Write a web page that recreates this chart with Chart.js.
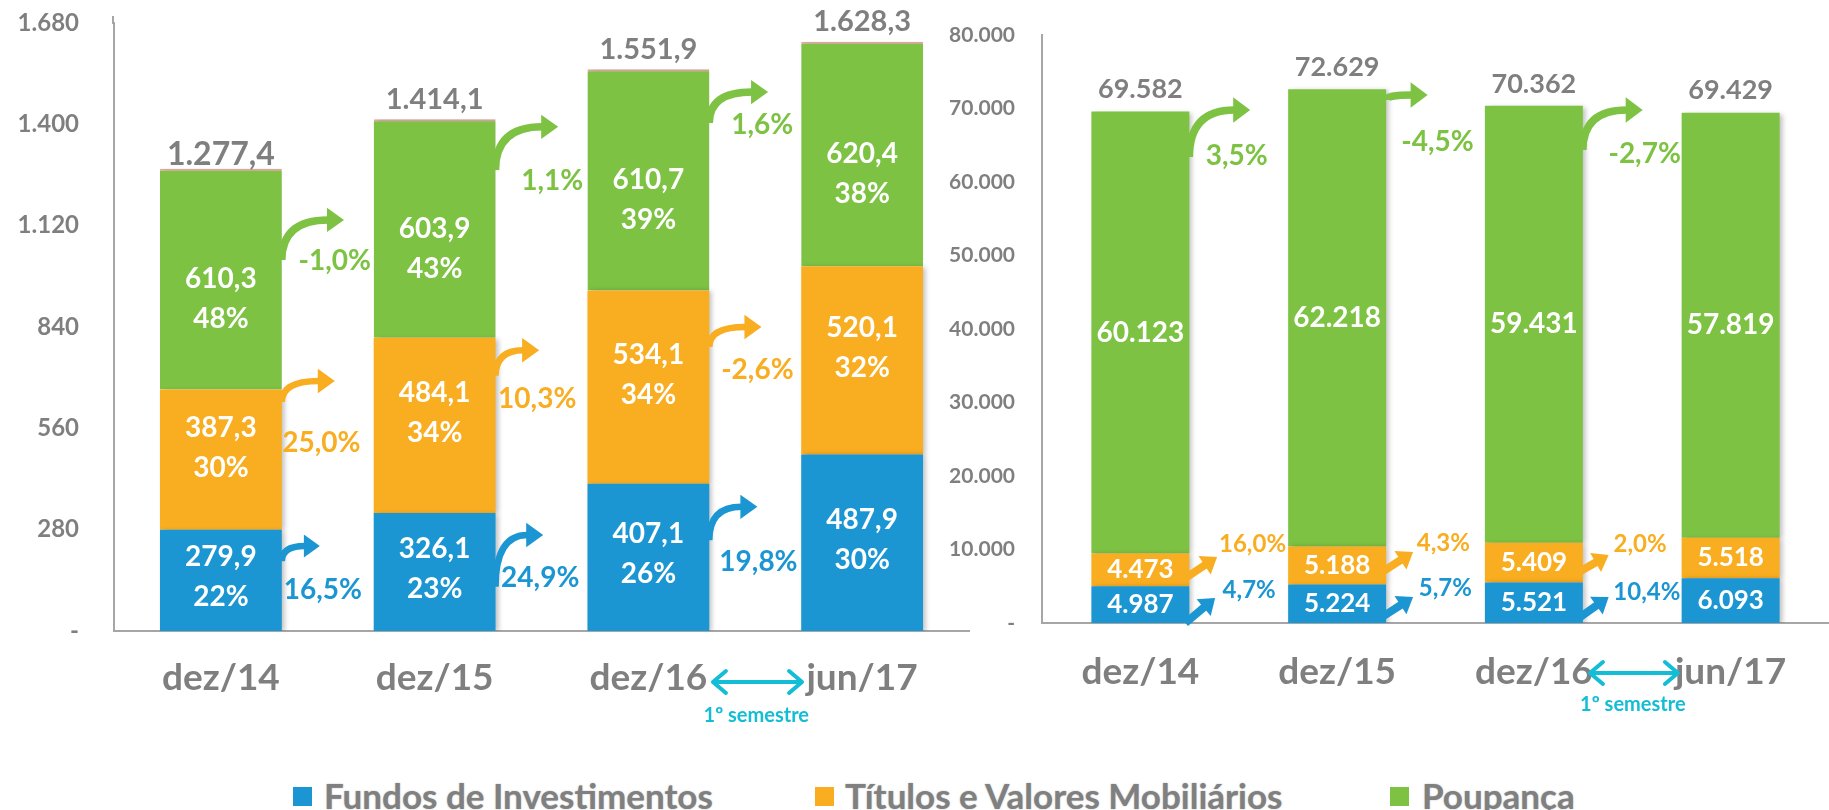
<!DOCTYPE html>
<html><head><meta charset="utf-8">
<script src="https://cdn.jsdelivr.net/npm/chart.js@4.4.0/dist/chart.umd.min.js"></script>
<style>
html,body{margin:0;padding:0;background:#fff;width:1829px;height:810px;overflow:hidden;}
#cL{position:absolute;left:0;top:0;}
#cR{position:absolute;left:930px;top:0;}
.sq{position:absolute;top:787px;width:19px;height:19px;}
.lt{position:absolute;top:778px;font:bold 35px Lato,"Open Sans",sans-serif;line-height:1;color:#808080;white-space:nowrap;text-shadow:0 0 1.5px rgba(90,90,90,0.5);}
</style></head>
<body>
<canvas id="cL" width="990" height="760"></canvas>
<canvas id="cR" width="899" height="760"></canvas>
<div id="legend"></div>
<script>
// ---------- data ----------
const categories = ['dez/14', 'dez/15', 'dez/16', 'jun/17'];
const seriesNames = ['Fundos de Investimentos', 'Títulos e Valores Mobiliários', 'Poupança'];
// left chart (R$ bilhões)
const fundosBi   = [279.9, 326.1, 407.1, 487.9];
const titulosBi  = [387.3, 484.1, 534.1, 520.1];
const poupancaBi = [610.3, 603.9, 610.7, 620.4];
const totalBi    = [1277.4, 1414.1, 1551.9, 1628.3];
const fundosShare   = ['22%', '23%', '26%', '30%'];
const titulosShare  = ['30%', '34%', '34%', '32%'];
const poupancaShare = ['48%', '43%', '39%', '38%'];
const fundosGrowthBi   = ['16,5%', '24,9%', '19,8%'];
const titulosGrowthBi  = ['25,0%', '10,3%', '-2,6%'];
const poupancaGrowthBi = ['-1,0%', '1,1%', '1,6%'];
const leftTickLabels = ['-', '280', '560', '840', '1.120', '1.400', '1.680'];
// right chart
const fundosN   = [4987, 5224, 5521, 6093];
const titulosN  = [4473, 5188, 5409, 5518];
const poupancaN = [60123, 62218, 59431, 57819];
const totalN    = [69582, 72629, 70362, 69429];
const fundosGrowthN   = ['4,7%', '5,7%', '10,4%'];
const titulosGrowthN  = ['16,0%', '4,3%', '2,0%'];
const poupancaGrowthN = ['3,5%', '-4,5%', '-2,7%'];
const rightTickLabels = ['-', '10.000', '20.000', '30.000', '40.000', '50.000', '60.000', '70.000', '80.000'];
const semesterLabel = '1º semestre';

// ---------- style / layout ----------
const FONT = 'Lato, "Open Sans", sans-serif';
const GRAY = '#7F7F7F';
const AXIS = '#A6A6A6';
const BLUE = '#1B96D2', ORANGE = '#F9AD21', GREEN = '#7DC243', CYAN = '#14BDD6';
const COLORS = [BLUE, ORANGE, GREEN];
const leftTotalFont = [32, 29, 29, 29];
const leftTotalGap  = [14, 20, 20, 20];

// annotation layout: sv = start value, tx/lx = offset from category centre (category units), tv/lv = values
const leftArrowLayout = [
  [{sv:193, tx:0.463, tv:235, lx:0.477, lv:113}, {sv:122, tx:0.508, tv:265, lx:0.494, lv:146}, {sv:251, tx:0.51, tv:343, lx:0.515, lv:191}],
  [{sv:633, tx:0.533, tv:691, lx:0.47, lv:519}, {sv:705, tx:0.489, tv:776, lx:0.48, lv:641}, {sv:785, tx:0.529, tv:840, lx:0.51, lv:721}],
  [{sv:1025, tx:0.576, tv:1136, lx:0.533, lv:1022}, {sv:1274, tx:0.578, tv:1393, lx:0.55, lv:1243}, {sv:1404, tx:0.56, tv:1489, lx:0.533, lv:1398}]
];
const rightArrowLayout = [
  [{sv:0, tx:0.38, tv:3400, lx:0.553, lv:4490}, {sv:816, tx:0.386, tv:3540, lx:0.55, lv:4760}, {sv:680, tx:0.38, tv:3540, lx:0.574, lv:4220}],
  [{sv:6120, tx:0.39, tv:8980, lx:0.57, lv:10750}, {sv:6940, tx:0.386, tv:9660, lx:0.54, lv:10880}, {sv:6940, tx:0.38, tv:9250, lx:0.54, lv:10750}],
  [{sv:63400, tx:0.558, tv:69800, lx:0.49, lv:63540}, {sv:71160, tx:0.46, tv:71840, lx:0.51, lv:65440}, {sv:64350, tx:0.553, tv:69800, lx:0.563, lv:63810}]
];

function fmtNum(v, dec) {
  const neg = v < 0; v = Math.abs(v);
  const parts = v.toFixed(dec).split('.');
  const int = parts[0].replace(/\B(?=(\d{3})+(?!\d))/g, '.');
  return (neg ? '-' : '') + int + (parts[1] ? ',' + parts[1] : '');
}

function curvedArrow(ctx, x0, y0, x1, y1, col, lw, headLen, headHalf) {
  const xe = x1 - headLen;
  ctx.save();
  ctx.strokeStyle = col; ctx.fillStyle = col; ctx.lineWidth = lw; ctx.lineCap = 'butt';
  ctx.beginPath();
  ctx.moveTo(x0, y0);
  ctx.quadraticCurveTo(x0, y1, xe + 1, y1);
  ctx.stroke();
  ctx.beginPath();
  ctx.moveTo(x1, y1);
  ctx.lineTo(xe, y1 - headHalf);
  ctx.lineTo(xe, y1 + headHalf);
  ctx.closePath(); ctx.fill();
  ctx.restore();
}
function straightArrow(ctx, x0, y0, x1, y1, col, lw, headLen, headHalf) {
  const a = Math.atan2(y1 - y0, x1 - x0);
  const bx = x1 - headLen * Math.cos(a), by = y1 - headLen * Math.sin(a);
  ctx.save();
  ctx.strokeStyle = col; ctx.fillStyle = col; ctx.lineWidth = lw;
  ctx.beginPath(); ctx.moveTo(x0, y0); ctx.lineTo(bx + Math.cos(a), by + Math.sin(a)); ctx.stroke();
  ctx.beginPath(); ctx.moveTo(x1, y1);
  ctx.lineTo(bx + headHalf * Math.sin(a), by - headHalf * Math.cos(a));
  ctx.lineTo(bx - headHalf * Math.sin(a), by + headHalf * Math.cos(a));
  ctx.closePath(); ctx.fill();
  ctx.restore();
}
function doubleArrow(ctx, x0, x1, y, col) {
  ctx.save();
  ctx.strokeStyle = col; ctx.lineWidth = 4; ctx.lineCap = 'round'; ctx.lineJoin = 'round';
  ctx.beginPath(); ctx.moveTo(x0 + 2, y); ctx.lineTo(x1 - 2, y); ctx.stroke();
  const h = 11, w = 13;
  ctx.beginPath(); ctx.moveTo(x0 + w, y - h); ctx.lineTo(x0, y); ctx.lineTo(x0 + w, y + h); ctx.stroke();
  ctx.beginPath(); ctx.moveTo(x1 - w, y - h); ctx.lineTo(x1, y); ctx.lineTo(x1 - w, y + h); ctx.stroke();
  ctx.restore();
}

function shadowPlugin() {
  return {
    id: 'barShadow',
    beforeDatasetsDraw(chart) { const c = chart.ctx; c.save(); c.shadowColor = 'rgba(0,0,0,0.25)'; c.shadowBlur = 5; c.shadowOffsetX = 3; c.shadowOffsetY = 1; },
    afterDatasetsDraw(chart) { chart.ctx.restore(); }
  };
}

function drawLeft(chart) {
  const ctx = chart.ctx, xs = chart.scales.x, ys = chart.scales.y;
  const catW = xs.getPixelForValue(1) - xs.getPixelForValue(0);
  ctx.save();
  // small axis extension above the top tick, as in the original
  ctx.strokeStyle = AXIS; ctx.lineWidth = 2;
  ctx.beginPath(); ctx.moveTo(chart.chartArea.left - 1, chart.chartArea.top - 7); ctx.lineTo(chart.chartArea.left - 1, chart.chartArea.top + 1); ctx.stroke();
  ctx.textAlign = 'center'; ctx.textBaseline = 'middle';
  // totals
  const topMeta = chart.getDatasetMeta(2).data;
  ctx.fillStyle = GRAY;
  totalBi.forEach((t, i) => {
    ctx.font = 'bold ' + leftTotalFont[i] + 'px ' + FONT;
    ctx.fillText(fmtNum(t, 1), topMeta[i].x, ys.getPixelForValue(t) - leftTotalGap[i]);
  });
  // inner labels
  const shares = [fundosShare, titulosShare, poupancaShare];
  const offs = [-3, -12, 20];
  ctx.fillStyle = '#fff'; ctx.font = 'bold 28px ' + FONT;
  [0, 1, 2].forEach(d => {
    chart.getDatasetMeta(d).data.forEach((el, i) => {
      const cy = (el.y + el.base) / 2 + offs[d];
      ctx.fillText(fmtNum(chart.data.datasets[d].data[i], 1), el.x, cy - 20);
      ctx.fillText(shares[d][i], el.x, cy + 20);
    });
  });
  // growth arrows
  const growth = [fundosGrowthBi, titulosGrowthBi, poupancaGrowthBi];
  [0, 1, 2].forEach(d => {
    const meta = chart.getDatasetMeta(d).data;
    leftArrowLayout[d].forEach((a, i) => {
      const el = meta[i];
      const x0 = el.x + el.width / 2, y0 = ys.getPixelForValue(a.sv);
      const x1 = el.x + a.tx * catW, y1 = ys.getPixelForValue(a.tv);
      const hl = Math.min(17, (x1 - x0) * 0.42);
      curvedArrow(ctx, x0, y0, x1, y1, COLORS[d], d === 2 ? 7.5 : 6.5, hl, hl * 0.72);
      ctx.fillStyle = COLORS[d]; ctx.font = 'bold 28px ' + FONT;
      ctx.fillText(growth[d][i], el.x + a.lx * catW, ys.getPixelForValue(a.lv));
    });
  });
  // semester marker
  const c2 = xs.getPixelForValue(2), c3 = xs.getPixelForValue(3);
  const yb = chart.chartArea.bottom;
  doubleArrow(ctx, c2 + 0.302 * (c3 - c2), c2 + 0.719 * (c3 - c2), yb + 51, CYAN);
  ctx.fillStyle = CYAN; ctx.font = 'bold 20px ' + FONT;
  ctx.fillText(semesterLabel, c2 + 0.505 * (c3 - c2), yb + 85);
  ctx.restore();
}

function drawRight(chart) {
  const ctx = chart.ctx, xs = chart.scales.x, ys = chart.scales.y;
  const catW = xs.getPixelForValue(1) - xs.getPixelForValue(0);
  ctx.save();
  ctx.textAlign = 'center'; ctx.textBaseline = 'middle';
  const topMeta = chart.getDatasetMeta(2).data;
  ctx.fillStyle = GRAY; ctx.font = 'bold 27px ' + FONT;
  totalN.forEach((t, i) => ctx.fillText(fmtNum(t, 0), topMeta[i].x, ys.getPixelForValue(t) - 22));
  ctx.fillStyle = '#fff';
  [0, 1, 2].forEach(d => {
    ctx.font = 'bold ' + (d === 2 ? 28 : 26) + 'px ' + FONT;
    chart.getDatasetMeta(d).data.forEach((el, i) => {
      ctx.fillText(fmtNum(chart.data.datasets[d].data[i], 0), el.x, (el.y + el.base) / 2);
    });
  });
  const growth = [fundosGrowthN, titulosGrowthN, poupancaGrowthN];
  [0, 1, 2].forEach(d => {
    const meta = chart.getDatasetMeta(d).data;
    rightArrowLayout[d].forEach((a, i) => {
      const el = meta[i];
      const x0 = el.x + el.width / 2, y0 = ys.getPixelForValue(a.sv);
      const x1 = el.x + a.tx * catW, y1 = ys.getPixelForValue(a.tv);
      if (d === 2) {
        const hl = Math.min(17, (x1 - x0) * 0.42);
        curvedArrow(ctx, x0, y0, x1, y1, COLORS[d], 7.5, hl, hl * 0.75);
      } else {
        straightArrow(ctx, x0 - 4, y0, x1, y1, COLORS[d], 8, 15, 11);
      }
      ctx.fillStyle = COLORS[d]; ctx.font = 'bold ' + (d === 2 ? 28 : 24) + 'px ' + FONT;
      ctx.fillText(growth[d][i], el.x + a.lx * catW, ys.getPixelForValue(a.lv));
    });
  });
  const c2 = xs.getPixelForValue(2), c3 = xs.getPixelForValue(3);
  const yb = chart.chartArea.bottom;
  doubleArrow(ctx, c2 + 0.285 * (c3 - c2), c2 + 0.732 * (c3 - c2), yb + 50, CYAN);
  ctx.fillStyle = CYAN; ctx.font = 'bold 20px ' + FONT;
  ctx.fillText(semesterLabel, c2 + 0.503 * (c3 - c2), yb + 82);
  ctx.restore();
}

function makeChart(id, sets, yMax, step, tickLabels, yWidth, yPad, yFont, xHeight, xPad, padding, barPct, drawFn, topBorder) {
  return new Chart(document.getElementById(id), {
    type: 'bar',
    data: {
      labels: categories,
      datasets: sets.map((d, k) => ({
        label: seriesNames[k], data: d, backgroundColor: COLORS[k],
        borderColor: '#E9A6A6', borderWidth: (k === 2 && topBorder) ? {top: 2, left: 0, right: 0, bottom: 0} : 0,
        borderSkipped: 'start',
        categoryPercentage: 1, barPercentage: barPct
      }))
    },
    options: {
      responsive: false, animation: false, devicePixelRatio: 1,
      layout: { padding: padding },
      plugins: { legend: { display: false }, tooltip: { enabled: false } },
      scales: {
        x: {
          stacked: true,
          grid: { display: false, drawTicks: false },
          border: { display: true, color: AXIS, width: 2 },
          ticks: { color: GRAY, font: { family: FONT, size: 37, weight: 'bold' }, padding: xPad, maxRotation: 0, autoSkip: false },
          afterFit: s => { s.height = xHeight; }
        },
        y: {
          stacked: true, min: 0, max: yMax,
          grid: { display: false, drawTicks: false },
          border: { display: true, color: AXIS, width: 2 },
          ticks: { stepSize: step, padding: yPad, color: GRAY, font: { family: FONT, size: yFont, weight: 'bold' },
                   callback: (v, i) => tickLabels[i] },
          afterFit: s => { s.width = yWidth; s.paddingTop = 14; s.paddingBottom = 14; }
        }
      }
    },
    plugins: [shadowPlugin(), { id: 'overlay', afterDraw: drawFn }]
  });
}

function build() {
  makeChart('cL', [fundosBi, titulosBi, poupancaBi], 1680, 280, leftTickLabels, 114, 35, 24, 129, 25,
    { top: 23, right: 21, bottom: 0, left: 0 }, 0.57, drawLeft, true);
  makeChart('cR', [fundosN, titulosN, poupancaN], 80000, 10000, rightTickLabels, 112, 27, 21, 137, 27,
    { top: 35, right: 0, bottom: 0, left: 0 }, 0.498, drawRight, false);
  const lg = document.getElementById('legend');
  const sqX = [293, 815, 1390], txX = [324, 845, 1422];
  seriesNames.forEach((n, k) => {
    const s = document.createElement('div'); s.className = 'sq'; s.style.left = sqX[k] + 'px'; s.style.background = COLORS[k]; lg.appendChild(s);
    const t = document.createElement('div'); t.className = 'lt'; t.style.left = txX[k] + 'px'; t.textContent = n; lg.appendChild(t);
  });
}
if (document.fonts && document.fonts.load) {
  Promise.all([document.fonts.load('bold 28px Lato'), document.fonts.load('bold 18px Lato')]).then(build, build);
} else { build(); }
</script>
</body></html>
